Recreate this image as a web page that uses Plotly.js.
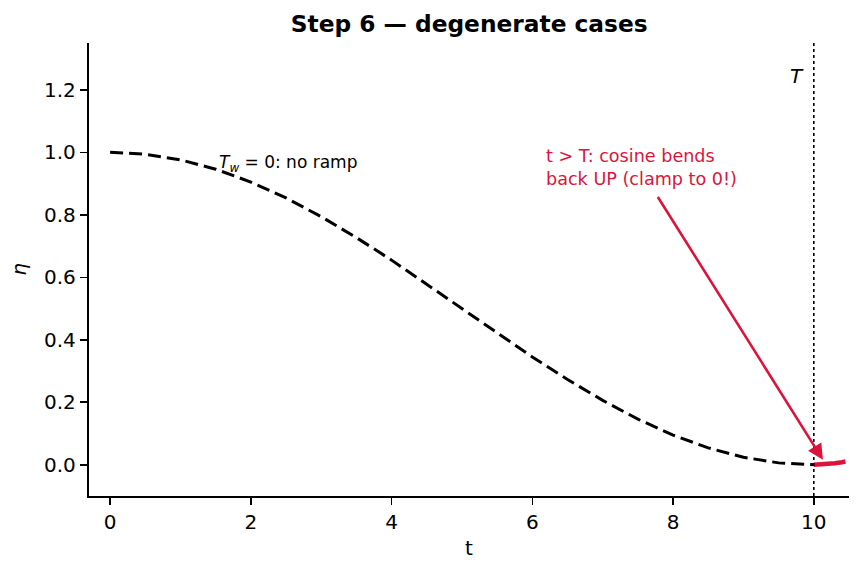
<!DOCTYPE html>
<html>
<head>
<meta charset="utf-8">
<script src="https://cdn.plot.ly/plotly-3.0.1.min.js"></script>
<style>html,body{margin:0;padding:0;background:#fff;}#chart{width:862px;height:571px;}</style>
</head>
<body>
<div id="chart"></div>
<script>
// Ramp curve (dashed black)
var tRamp = [0, 0.5, 1, 1.5, 2, 2.5, 3, 3.5, 4, 4.5, 5, 5.5, 6, 6.5, 7, 7.5, 8, 8.5, 9, 9.5, 10];
var etaRamp = [1.0, 0.994, 0.976, 0.946, 0.905, 0.854, 0.794, 0.727, 0.655, 0.578, 0.5, 0.422, 0.345, 0.273, 0.206, 0.146, 0.095, 0.054, 0.024, 0.006, 0.0];
// Overshoot segment past T (red)
var tOver = [10.0, 10.1, 10.2, 10.3, 10.4, 10.45];
var etaOver = [0.0, 0.0006, 0.0022, 0.0048, 0.0082, 0.0102];
var T = 10;
var xTicks = [0, 2, 4, 6, 8, 10];
var yTicks = [0.0, 0.2, 0.4, 0.6, 0.8, 1.0, 1.2];

var FONT = 'DejaVu Sans, sans-serif';
var RED = '#DC143C';

var traces = [
  {x: tRamp, y: etaRamp, mode: 'lines', line: {color: '#000', width: 3, dash: '13px,6px'}, hoverinfo: 'skip'},
  {x: tOver, y: etaOver, mode: 'lines', line: {color: RED, width: 4.5}, hoverinfo: 'skip'}
];

var layout = {
  width: 862, height: 571,
  margin: {l: 89, r: 13, t: 43, b: 75},
  paper_bgcolor: '#fff', plot_bgcolor: '#fff',
  showlegend: false,
  font: {family: FONT, color: '#000', size: 20},
  title: {text: '<b>Step 6 — degenerate cases</b>', font: {family: FONT, size: 23.3, color: '#000'}, x: 0.5443, xanchor: 'center', y: 0.958, yanchor: 'middle'},
  xaxis: {
    range: [-0.3, 10.5], tickvals: xTicks, ticktext: xTicks.map(String),
    showgrid: false, zeroline: false, showline: true, linecolor: '#000', linewidth: 2.2,
    ticks: 'outside', ticklen: 7, tickwidth: 1.6, tickcolor: '#000',
    tickfont: {family: FONT, size: 20},
    title: {text: 't', font: {family: FONT, size: 20}, standoff: 8}
  },
  yaxis: {
    range: [-0.1, 1.35], tickvals: yTicks, ticktext: yTicks.map(function(v){return v.toFixed(1);}),
    showgrid: false, zeroline: false, showline: true, linecolor: '#000', linewidth: 2.2,
    ticks: 'outside', ticklen: 7, tickwidth: 1.6, tickcolor: '#000',
    tickfont: {family: FONT, size: 20},
    title: {text: '<i>η</i>', font: {family: FONT, size: 20}, standoff: 12}
  },
  shapes: [
    {type: 'line', xref: 'x', yref: 'paper', x0: T, x1: T, y0: 0, y1: 1, line: {color: '#000', width: 1.6, dash: 'dot'}}
  ],
  annotations: [
    {x: 9.76, y: 1.243, xref: 'x', yref: 'y', text: '<i>T</i>', showarrow: false, font: {family: FONT, size: 20, color: '#000'}, xanchor: 'center', yanchor: 'middle'},
    {x: 1.52, y: 0.963, xref: 'x', yref: 'y', text: '<i>T</i><sub><i>w</i></sub> = 0: no ramp', showarrow: false, font: {family: FONT, size: 17, color: '#000'}, xanchor: 'left', yanchor: 'middle'},
    {x: 6.16, y: 0.952, xref: 'x', yref: 'y', text: 't &gt; T: cosine bends<br>back UP (clamp to 0!)', showarrow: false, align: 'left', font: {family: FONT, size: 17.6, color: RED}, xanchor: 'left', yanchor: 'middle'},
    {x: 10.13, y: 0.016, xref: 'x', yref: 'y', ax: 7.77, ay: 0.862, axref: 'x', ayref: 'y', text: '', showarrow: true, arrowhead: 2, arrowsize: 1.2, arrowwidth: 2.6, arrowcolor: RED, standoff: 0, startstandoff: 0}
  ]
};

Plotly.newPlot('chart', traces, layout, {staticPlot: true, displayModeBar: false});
</script>
</body>
</html>
